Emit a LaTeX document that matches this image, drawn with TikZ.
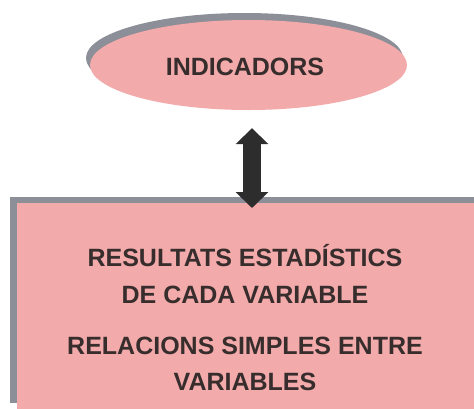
\documentclass[tikz,border=0pt]{standalone}
\usepackage{fontspec}
\setmainfont{Liberation Sans}
\usetikzlibrary{shapes.geometric,arrows.meta,shadows}
\definecolor{pinkfill}{RGB}{243,170,170}
\definecolor{shadowgrey}{RGB}{140,142,152}
\definecolor{arrowdark}{RGB}{45,45,45}
\definecolor{textdark}{RGB}{55,45,45}
\begin{document}
\begin{tikzpicture}[x=1pt,y=-1pt,
  lbl/.style={font=\bfseries\fontsize{25}{30}\selectfont, text=textdark, anchor=base, inner sep=0pt},
  oval/.style={ellipse, fill=pinkfill, minimum width=317pt, minimum height=90pt, inner sep=0pt,
    drop shadow={shadow xshift=-4pt, shadow yshift=7pt, fill=shadowgrey, opacity=1}},
  panel/.style={rectangle, fill=pinkfill, anchor=north west, minimum width=480pt, minimum height=206pt, inner sep=0pt,
    drop shadow={shadow xshift=-7pt, shadow yshift=6pt, fill=shadowgrey, opacity=1}},
  dblarrow/.style={draw=arrowdark, line width=18pt,
    {Triangle[width=32pt,length=16pt]}-{Triangle[width=32pt,length=16pt]}}
]
\useasboundingbox[fill=white] (0,0) rectangle (474,408);
\begin{scope}
\clip (0,0) rectangle (474,408);
% top ellipse
\node[oval] (ind) at (248.5,65) {};
\node[lbl] (indt) at (245,75) {INDICADORS};
% bottom panel
\node[panel] (res) at (17,203) {};
\node[lbl] (l1) at (245,266) {RESULTATS ESTADÍSTICS};
\node[lbl] (l2) at (245,303) {DE CADA VARIABLE};
\node[lbl] (l3) at (245,354) {RELACIONS SIMPLES ENTRE};
\node[lbl] (l4) at (245,390) {VARIABLES};
% double arrow
\coordinate (axis) at (252,0);
\draw[dblarrow, shorten <=18pt, shorten >=-5pt] (ind.south -| axis) -- (res.north -| axis);
\end{scope}
\end{tikzpicture}
\end{document}
